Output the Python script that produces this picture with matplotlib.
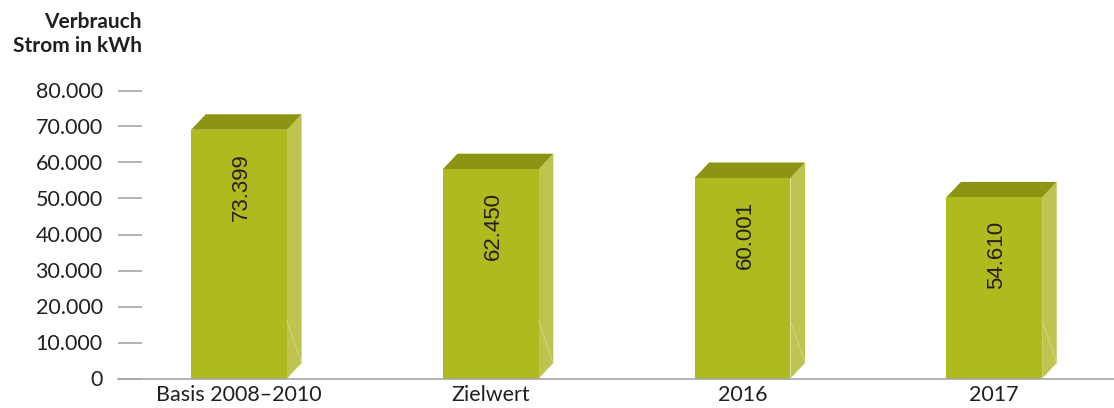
import matplotlib
matplotlib.use("Agg")
import matplotlib.pyplot as plt
from matplotlib.patches import Polygon

# data
categories = ["Basis 2008–2010", "Zielwert", "2016", "2017"]
values = [73399, 62450, 60001, 54610]
value_labels = ["73.399", "62.450", "60.001", "54.610"]
yticks = [0, 10000, 20000, 30000, 40000, 50000, 60000, 70000, 80000]
ytick_labels = ["0", "10.000", "20.000", "30.000", "40.000", "50.000", "60.000", "70.000", "80.000"]

plt.rcParams['font.family'] = ['Lato', 'DejaVu Sans']

front_col = "#AFBA1E"
top_col = "#8C9413"
side_col = "#BEC44F"
text_col = "#231F20"

W, H = 1114, 408
fig = plt.figure(figsize=(W / 100, H / 100), dpi=100)
ax = fig.add_axes([118 / W, (H - 378.5) / H, (W - 118) / W, 288 / H])

bar_w = 0.381
dx = 0.058
dy = 4300

for i, v in enumerate(values):
    x0 = i - bar_w / 2
    x1 = i + bar_w / 2
    front_top = v - dy
    # side face
    ax.add_patch(Polygon([(x1, 0), (x1 + dx, dy), (x1 + dx, v), (x1, front_top)],
                         closed=True, fc=side_col, ec="none"))
    # faint crease on side face
    ax.plot([x1, x1 + dx], [16000, 4300], color="#D2D68A", lw=0.6)
    # top face
    ax.add_patch(Polygon([(x0, front_top), (x0 + dx, v), (x1 + dx, v), (x1, front_top)],
                         closed=True, fc=top_col, ec="none"))
    # front face
    ax.add_patch(Polygon([(x0, 0), (x1, 0), (x1, front_top), (x0, front_top)],
                         closed=True, fc=front_col, ec="none"))
    ax.text(i + 0.01, front_top - 6400, value_labels[i], rotation=90,
            ha="center", va="top", fontsize=16, color=text_col,
            family=["Liberation Sans", "DejaVu Sans"])

ax.set_xlim(-0.481, 3.476)
ax.set_ylim(0, 80000)

for s in ["top", "right", "left"]:
    ax.spines[s].set_visible(False)
ax.spines["bottom"].set_color("#A6A6A6")
ax.spines["bottom"].set_linewidth(1.2)

ax.set_yticks(yticks)
ax.set_yticklabels(ytick_labels)
ax.tick_params(axis="y", direction="in", length=17, width=1.2, color="#A6A6A6",
               pad=11, labelsize=15.5, labelcolor=text_col)
ax.set_xticks(range(len(categories)))
ax.set_xticklabels(categories)
ax.tick_params(axis="x", length=0, pad=5, labelsize=15.5, labelcolor=text_col)

fig.text(142 / W, 1 - 12 / H, "Verbrauch\nStrom in kWh", ha="right", va="top",
         multialignment="right", fontsize=15, fontweight="bold", color=text_col,
         linespacing=1.25)

fig.savefig("out.png", dpi=100)
